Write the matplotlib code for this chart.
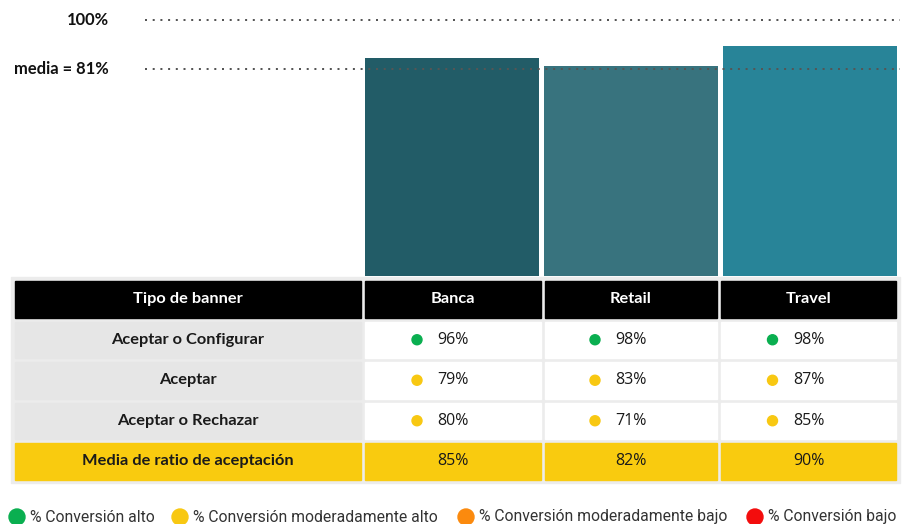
import matplotlib.pyplot as plt
from matplotlib.patches import Rectangle, Circle

# data
sectors = ["Banca", "Retail", "Travel"]
banner_types = ["Aceptar o Configurar", "Aceptar", "Aceptar o Rechazar"]
banca = [96, 79, 80]
retail = [98, 83, 71]
travel = [98, 87, 85]
media_sector = [85, 82, 90]
media_total = 81
header_first = "Tipo de banner"
mean_label = "Media de ratio de aceptación"
legend_labels = ["% Conversión alto", "% Conversión moderadamente alto",
                 "% Conversión moderadamente bajo", "% Conversión bajo"]

# colours
bar_colors = ["#225c67", "#38737e", "#288498"]
dot_colors = ["#0aaf50", "#f8c812", "#fb8a0e", "#f30d0d"]
yellow = "#f9cb0f"


def dot_color(v):
    if v >= 90:
        return dot_colors[0]
    elif v >= 70:
        return dot_colors[1]
    elif v >= 50:
        return dot_colors[2]
    return dot_colors[3]


plt.rcParams["font.family"] = ["Lato", "DejaVu Sans"]
num_font = ["Open Sans", "DejaVu Sans"]
W, H = 906, 524
fig = plt.figure(figsize=(W / 100, H / 100), dpi=100)

# overlay axes in pixel coords (table + legend)
bg = fig.add_axes([0, 0, 1, 1])
bg.set_xlim(0, W)
bg.set_ylim(H, 0)
bg.axis("off")

# bar axes: baseline at y=276px, 100% at y=20px
base_px, top_px = 276, 20
ymax = 105
ax_h = (base_px - top_px) * ymax / 100
left_px, right_px = 145, 900
ax = fig.add_axes([left_px / W, (H - base_px) / H, (right_px - left_px) / W, ax_h / H])
ax.patch.set_alpha(0)
unit = 179.0
centers_px = [452, 631, 810]
ax.set_xlim(-(centers_px[0] - left_px) / unit, 2 + (right_px - centers_px[2]) / unit)
ax.set_ylim(0, ymax)
ax.axis("off")
ax.bar(range(len(sectors)), media_sector, width=0.975, color=bar_colors, zorder=1)

for val, lab in [(100, "100%"), (media_total, "media = %d%%" % media_total)]:
    ax.axhline(val, color="#555555", lw=1.44, linestyle=(0, (1, 2.85)),
               dash_capstyle="butt", clip_on=False, zorder=3)
    ax.text(-(left_px - 109) / (right_px - left_px), val, lab, transform=ax.get_yaxis_transform(),
            ha="right", va="center", fontsize=11.9, fontweight="bold", color="#111111")

# table
cols = [(15, 361), (365, 541), (545, 717), (721, 896)]
row_h, gap, top0 = 36.5, 4, 281
bg.add_patch(Rectangle((11, 277), 889, 206, color="#ececec", zorder=0))
values = [banca, retail, travel]
n_rows = len(banner_types) + 2
for r in range(n_rows):
    y0 = top0 + r * (row_h + gap)
    yc = y0 + row_h / 2
    for c, (x0, x1) in enumerate(cols):
        xc = (x0 + x1) / 2
        if r == 0:
            txt = header_first if c == 0 else sectors[c - 1]
            bg.add_patch(Rectangle((x0, y0), x1 - x0, row_h, color="black", zorder=1))
            bg.text(xc, yc, txt, ha="center", va="center", color="white",
                    fontsize=11.8, fontweight="bold", zorder=2)
        elif r == n_rows - 1:
            bg.add_patch(Rectangle((x0, y0), x1 - x0, row_h, color=yellow, zorder=1))
            if c == 0:
                bg.text(xc, yc, mean_label, ha="center", va="center", color="#1a1a1a",
                        fontsize=11.8, fontweight="bold", zorder=2)
            else:
                bg.text(xc, yc, "%d%%" % media_sector[c - 1], ha="center", va="center",
                        color="#1a1a1a", fontsize=11.5, family=num_font, zorder=2)
        else:
            if c == 0:
                bg.add_patch(Rectangle((x0, y0), x1 - x0, row_h, color="#e6e6e6", zorder=1))
                bg.text(xc, yc, banner_types[r - 1], ha="center", va="center",
                        color="#1a1a1a", fontsize=11.8, fontweight="bold", zorder=2)
            else:
                v = values[c - 1][r - 1]
                bg.add_patch(Rectangle((x0, y0), x1 - x0, row_h, color="white", zorder=1))
                bg.add_patch(Circle((xc - 36, yc), 5, color=dot_color(v), zorder=2))
                bg.text(xc, yc, "%d%%" % v, ha="center", va="center",
                        color="#1a1a1a", fontsize=11.5, family=num_font, zorder=2)

# legend
legend_x = [17, 180, 466, 755]
for i, lab in enumerate(legend_labels):
    bg.add_patch(Circle((legend_x[i], 517), 8, color=dot_colors[i], zorder=2))
    bg.text(legend_x[i] + 13, 517, lab, ha="left", va="center", fontsize=11.3,
            color="#333333", family=["Roboto", "DejaVu Sans"])

fig.savefig("out.png", dpi=100)
